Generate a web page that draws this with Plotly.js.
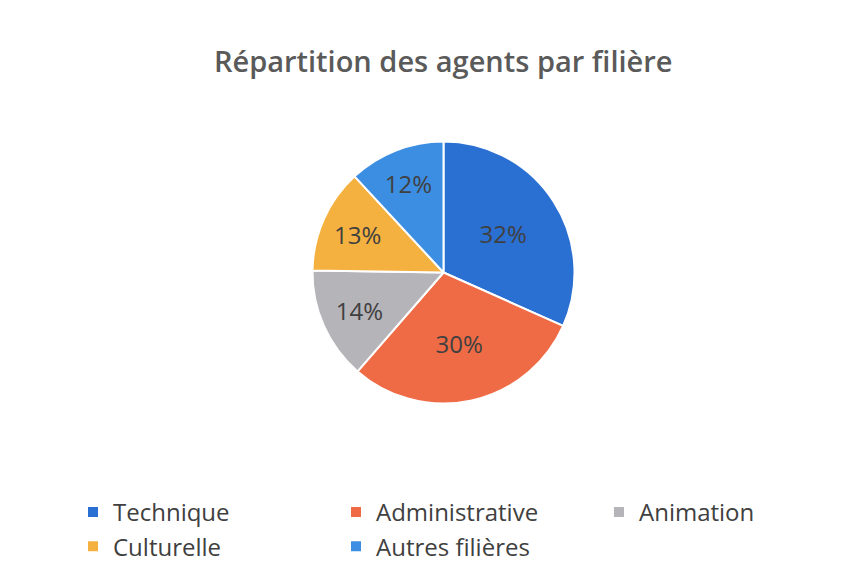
<!DOCTYPE html>
<html>
<head>
<meta charset="utf-8">
<script src="https://cdn.plot.ly/plotly-3.0.1.min.js"></script>
<style>html,body{margin:0;padding:0;background:#fff}#chart{width:864px;height:575px}</style>
</head>
<body>
<div id="chart"></div>
<script>
const categories = ["Technique", "Administrative", "Animation", "Culturelle", "Autres filières"];
const values = [32, 30, 14, 13, 12];
const colors = ["#2a6fd2", "#ef6b45", "#b5b4b9", "#f5b13f", "#3b8ee2"];
const titleText = "Répartition des agents par filière";

const W = 864, H = 575;
const cx = 443.5, cy = 272.5, r = 131;
const FONT = "'Open Sans', sans-serif";

const trace = {
  type: "pie",
  labels: categories,
  values: values,
  sort: false,
  direction: "clockwise",
  rotation: 0,
  marker: { colors: colors, line: { color: "#ffffff", width: 2 } },
  texttemplate: "%{value}%",
  textposition: "inside",
  insidetextorientation: "horizontal",
  textfont: { family: FONT, size: 24, color: "#404040" },
  hoverinfo: "label+percent",
  domain: { x: [(cx - r) / W, (cx + r) / W], y: [(H - cy - r) / H, (H - cy + r) / H] }
};

const layout = {
  width: W, height: H,
  margin: { l: 0, r: 0, t: 0, b: 0, autoexpand: false },
  paper_bgcolor: "#ffffff",
  title: {
    text: titleText,
    font: { family: FONT, size: 29, weight: 600, color: "#5a5a5a" },
    x: 0.513, xanchor: "center", y: 1 - 62 / H, yanchor: "middle"
  },
  showlegend: true,
  legend: {
    orientation: "h",
    x: 73 / W, xanchor: "left",
    y: 1 - 490 / H, yanchor: "top",
    entrywidth: 218, entrywidthmode: "pixels",
    font: { family: FONT, size: 24, color: "#404040" },
    traceorder: "normal"
  }
};

Plotly.newPlot("chart", [trace], layout, { displayModeBar: false, staticPlot: true });
</script>
</body>
</html>
